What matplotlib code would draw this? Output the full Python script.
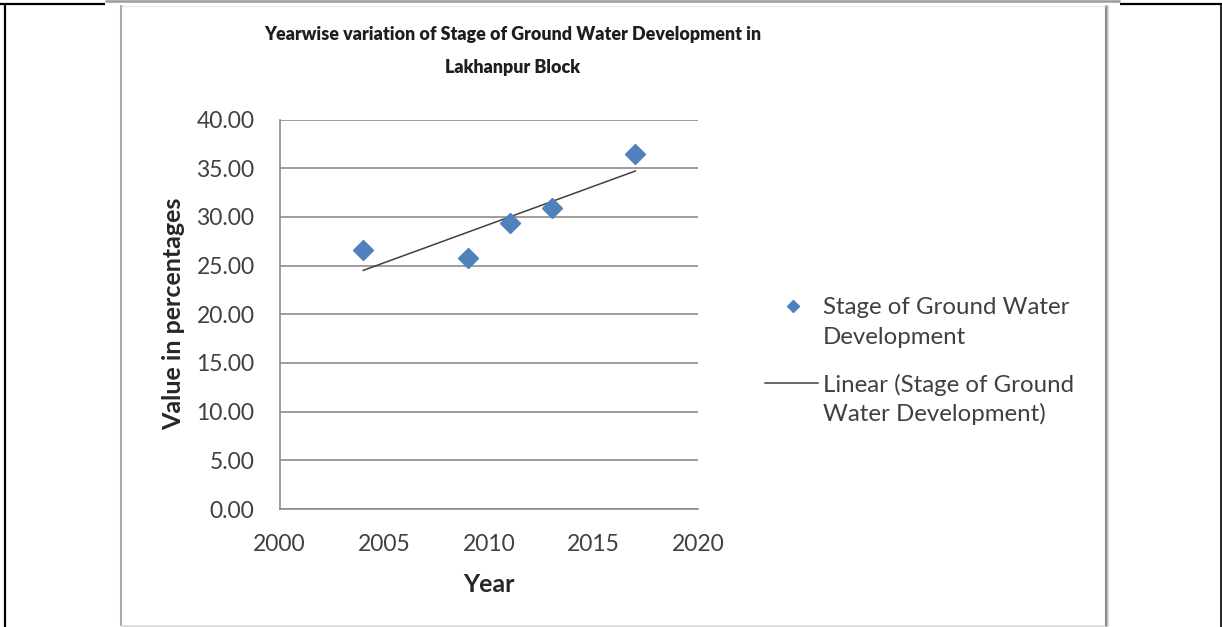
import matplotlib
matplotlib.use("Agg")
import matplotlib.pyplot as plt
from matplotlib.lines import Line2D
import numpy as np

# Stage of ground water development, Lakhanpur block
years = [2004, 2009, 2011, 2013, 2017]
stage_pct = [26.6, 25.8, 29.4, 30.9, 36.5]

x_ticks = [2000, 2005, 2010, 2015, 2020]
y_ticks = [0, 5, 10, 15, 20, 25, 30, 35, 40]

title = "Yearwise variation of Stage of Ground Water Development in\nLakhanpur Block"
x_label = "Year"
y_label = "Value in percentages"
series_label = "Stage of Ground Water\nDevelopment"
trend_label = "Linear (Stage of Ground\nWater Development)"

W, H = 1222, 627
FONT = ["Lato", "DejaVu Sans"]
plt.rcParams["font.family"] = FONT

MARKER_COLOR = "#4F81BD"
TREND_COLOR = "#404040"
TEXT_COLOR = "#404040"

fig = plt.figure(figsize=(W / 100, H / 100), dpi=100)
fig.patch.set_facecolor("white")


def fx(x):
    return x / W


def fy(y):
    return 1 - y / H


def hline(x0, x1, y, color, lw):
    fig.add_artist(Line2D([fx(x0), fx(x1)], [fy(y), fy(y)], color=color, lw=lw,
                          transform=fig.transFigure, solid_capstyle="butt"))


def vline(x, y0, y1, color, lw):
    fig.add_artist(Line2D([fx(x), fx(x)], [fy(y0), fy(y1)], color=color, lw=lw,
                          transform=fig.transFigure, solid_capstyle="butt"))


# table cell borders
hline(0, 105, 4, "black", 1.6)
hline(1120, W, 4, "black", 1.6)
hline(105, 1120, 1.2, "#9a9a9a", 1.8)
vline(4.5, 3, H, "black", 1.6)
vline(1220.5, 3, H, "black", 1.2)
# chart frame with soft shadow
vline(120.5, 5, 626, "#a8a8a8", 1.5)
vline(1105.5, 5, 626, "#8c8c8c", 2.2)
vline(1107.5, 5, 626, "#d0d0d0", 1.2)
hline(121, 1105, 5.5, "#e6e6e6", 1.0)
hline(121, 1105, 625.5, "#d8d8d8", 1.2)

# plot area
left, right, top, bottom = 279.5, 698, 119.5, 509
ax = fig.add_axes([fx(left), fy(bottom), fx(right - left), (bottom - top) / H])
ax.set_xlim(x_ticks[0], x_ticks[-1])
ax.set_ylim(y_ticks[0], y_ticks[-1])
ax.set_xticks(x_ticks)
ax.set_yticks(y_ticks)
ax.set_yticklabels([f"{v:.2f}" for v in y_ticks])
ax.tick_params(length=0, labelsize=16.5, colors=TEXT_COLOR)
ax.tick_params(axis="y", pad=18)
ax.tick_params(axis="x", pad=18)
for s in ("top", "right"):
    ax.spines[s].set_visible(False)
for s in ("left", "bottom"):
    ax.spines[s].set_color("#8c8c8c")
    ax.spines[s].set_linewidth(1.2)
ax.yaxis.grid(True, color="#8c8c8c", lw=1.2)
ax.set_axisbelow(True)

ax.plot(years, stage_pct, linestyle="none", marker="D", markersize=10,
        color=MARKER_COLOR, markeredgecolor=MARKER_COLOR, zorder=3)

# least-squares trend line over the observed years
slope, intercept = np.polyfit(years, stage_pct, 1)
xs = np.array([min(years), max(years)])
ax.plot(xs, slope * xs + intercept, color=TREND_COLOR, lw=1.1, zorder=2)

ax.set_xlabel(x_label, fontsize=18, fontweight="bold", color="#262626", labelpad=13)
ax.set_ylabel(y_label, fontsize=18, fontweight="bold", color="#262626", labelpad=8)

fig.text(fx(513), fy(51), title, ha="center", va="center", fontsize=12.9,
         fontweight="heavy", color="#1e1e1e", linespacing=2.1)

# legend: handles sit on the first line of each two-line label
LEG_FS = 17.3
text_x = 823
line_gap = 29.5


def legend_label(label, center_y):
    for i, part in enumerate(label.split("\n")):
        fig.text(fx(text_x), fy(center_y + i * line_gap + 8.5), part, ha="left",
                 va="baseline", fontsize=LEG_FS, color=TEXT_COLOR)


fig.add_artist(Line2D([fx(793)], [fy(306)], linestyle="none", marker="D",
                      markersize=6.5, color=MARKER_COLOR, transform=fig.transFigure))
legend_label(series_label, 306)
fig.add_artist(Line2D([fx(765), fx(818)], [fy(383), fy(383)], color=TREND_COLOR,
                      lw=1.1, transform=fig.transFigure))
legend_label(trend_label, 383)

fig.savefig("out.png", dpi=100, facecolor="white")
